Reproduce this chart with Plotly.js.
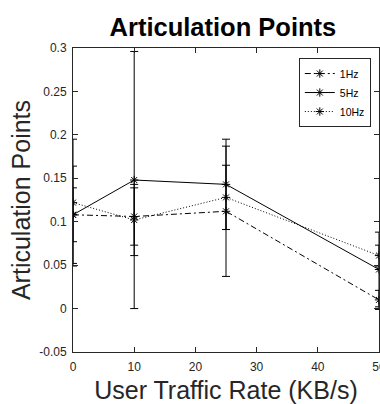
<!DOCTYPE html>
<html>
<head>
<meta charset="utf-8">
<script src="https://cdn.plot.ly/plotly-3.0.1.min.js"></script>
<style>
  html, body { margin: 0; padding: 0; background: #fff; }
  #chart { width: 380px; height: 404px; }
</style>
</head>
<body>
<div id="chart"></div>
<script>
// Data
const trafficRates = [0, 10, 25, 50];
const seriesNames = ["1Hz", "5Hz", "10Hz"];
const hz1Mean = [0.108, 0.106, 0.112, 0.010];
const hz1Err  = [0.031, 0.033, 0.075, 0.011];
const hz5Mean = [0.108, 0.148, 0.143, 0.045];
const hz5Err  = [0.056, 0.148, 0.052, 0.043];
const hz10Mean = [0.122, 0.102, 0.128, 0.061];
const hz10Err  = [0.073, 0.041, 0.037, 0.012];
const yTickVals = [-0.05, 0, 0.05, 0.1, 0.15, 0.2, 0.25, 0.3];
const yTickText = ["-0.05", "0", "0.05", "0.1", "0.15", "0.2", "0.25", "0.3"];
const xTickVals = [0, 10, 20, 30, 40, 50];
const xTickText = ["0", "10", "20", "30", "40", "50"];

const FONT = "Liberation Sans, Arial, Helvetica, sans-serif";
const AXIS_COLOR = "#262626";

function makeTrace(name, y, err, dash) {
  return {
    type: "scatter",
    mode: "lines+markers",
    name: name,
    x: trafficRates,
    y: y,
    line: { color: "#000", width: 1, dash: dash },
    marker: { symbol: "asterisk-open", size: 7, color: "#000", line: { color: "#000", width: 1 } },
    error_y: { type: "data", array: err, visible: true, color: "#000", thickness: 1, width: 4 }
  };
}

const data = [
  makeTrace(seriesNames[0], hz1Mean, hz1Err, "6px,3px,2px,3px"),
  makeTrace(seriesNames[1], hz5Mean, hz5Err, "solid"),
  makeTrace(seriesNames[2], hz10Mean, hz10Err, "1px,2px")
];

const layout = {
  width: 380,
  height: 404,
  margin: { l: 73, r: 1, t: 48, b: 52 },
  paper_bgcolor: "#fff",
  plot_bgcolor: "#fff",
  font: { family: FONT, color: AXIS_COLOR, size: 12 },
  title: {
    text: "<b>Articulation Points</b>",
    font: { family: FONT, size: 25.5, color: "#000" },
    xref: "paper", x: 0.49, xanchor: "center",
    yref: "container", y: 0.932, yanchor: "middle"
  },
  showlegend: true,
  legend: {
    x: 0.738, y: 0.967, xanchor: "left", yanchor: "top",
    bgcolor: "#fff", bordercolor: AXIS_COLOR, borderwidth: 1,
    font: { family: FONT, size: 10.5, color: "#000" },
    tracegroupgap: 0,
    itemwidth: 30
  },
  xaxis: {
    range: [0, 50],
    tickvals: xTickVals, ticktext: xTickText,
    ticks: "inside", ticklen: 5, tickcolor: AXIS_COLOR, tickwidth: 1,
    ticklabelstandoff: 4,
    ticklabeloverflow: "allow",
    showline: true, linecolor: AXIS_COLOR, linewidth: 1, mirror: "ticks",
    showgrid: false, zeroline: false,
    tickfont: { family: FONT, size: 12, color: AXIS_COLOR },
    title: { text: "User Traffic Rate (KB/s)", font: { family: FONT, size: 25, color: AXIS_COLOR }, standoff: 8 },
    automargin: false
  },
  yaxis: {
    range: [-0.05, 0.3],
    tickvals: yTickVals, ticktext: yTickText,
    ticks: "inside", ticklen: 5, tickcolor: AXIS_COLOR, tickwidth: 1,
    ticklabelstandoff: 3,
    ticklabeloverflow: "allow",
    showline: true, linecolor: AXIS_COLOR, linewidth: 1, mirror: "ticks",
    showgrid: false, zeroline: false,
    tickfont: { family: FONT, size: 12, color: AXIS_COLOR },
    title: { text: "Articulation Points", font: { family: FONT, size: 25, color: AXIS_COLOR }, standoff: 1 },
    automargin: false
  }
};

Plotly.newPlot("chart", data, layout, { displayModeBar: false, staticPlot: true });
</script>
</body>
</html>
